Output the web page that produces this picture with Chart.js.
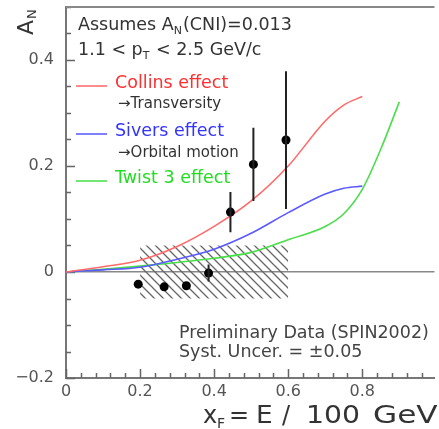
<!DOCTYPE html>
<html>
<head>
<meta charset="utf-8">
<script src="https://cdn.jsdelivr.net/npm/chart.js@4/dist/chart.umd.min.js"></script>
<style>
  html, body { margin: 0; padding: 0; background: #fff; overflow: hidden; }
  canvas { display: block; }
</style>
</head>
<body>
<canvas id="an-chart" width="439" height="429"></canvas>
<script>
// model curves
const curveX = [0, 0.1, 0.2, 0.3, 0.4, 0.5, 0.6, 0.7, 0.75, 0.8];
const collins = [0, 0.010, 0.022, 0.048, 0.086, 0.134, 0.2, 0.285, 0.315, 0.331];
const sivers = [0, 0.004, 0.009, 0.024, 0.043, 0.073, 0.112, 0.147, 0.158, 0.162];
const twistX = [0, 0.1, 0.2, 0.3, 0.4, 0.5, 0.6, 0.7, 0.75, 0.8, 0.85, 0.9];
const twist3 = [0, 0.005, 0.011, 0.018, 0.026, 0.037, 0.061, 0.086, 0.11, 0.156, 0.232, 0.321];

// preliminary data
const dataX = [0.195, 0.265, 0.325, 0.385, 0.444, 0.506, 0.594];
const dataY = [-0.023, -0.028, -0.026, -0.002, 0.113, 0.203, 0.249];
const dataErr = [0, 0, 0, 0.016, 0.038, 0.069, 0.13];

// systematic band
const sysX = [0.2, 0.6];
const sysHalf = 0.05;

const xTicks = [0, 0.2, 0.4, 0.6, 0.8];
const yTicks = [-0.2, 0, 0.2, 0.4];

const FONT = "'DejaVu Sans', sans-serif";
const pts = (xs, ys) => xs.map((x, i) => ({ x: x, y: ys[i] }));

function hatch() {
  const c = document.createElement("canvas");
  c.width = 9; c.height = 9;
  const g = c.getContext("2d");
  g.strokeStyle = "#666";
  g.lineWidth = 1.3;
  g.beginPath();
  g.moveTo(0, 0); g.lineTo(9, 9);
  g.moveTo(-1, 8); g.lineTo(1, 10);
  g.moveTo(8, -1); g.lineTo(10, 1);
  g.stroke();
  return g.createPattern(c, "repeat");
}

// text with subscript pieces: parts = [[text, isSub], ...]
function richText(c, parts, x, y, size, color) {
  c.fillStyle = color;
  c.textBaseline = "alphabetic";
  c.textAlign = "left";
  for (const [t, sub] of parts) {
    const s = sub ? Math.round(size * 0.62) : size;
    c.font = s + "px " + FONT;
    c.fillText(t, x, sub ? y + size * 0.2 : y);
    x += c.measureText(t).width + (sub ? 1 : 0);
  }
}

// wide glyphs for the axis title
function wide(c, t, x, y, k) {
  c.save();
  c.translate(x, y);
  c.scale(k, 1);
  c.fillText(t, 0, 0);
  c.restore();
}

const decor = {
  id: "decor",
  beforeDatasetsDraw(chart) {
    const { ctx: c, chartArea: a, scales: { x, y } } = chart;
    c.save();
    c.strokeStyle = "#666";
    c.lineWidth = 1.5;
    c.beginPath();
    for (let i = 0; i * 0.04 <= x.max; i++) {
      const px = Math.round(x.getPixelForValue(i * 0.04)) + 0.5;
      const len = i % 5 === 0 ? 9 : 5;
      c.moveTo(px, a.bottom); c.lineTo(px, a.bottom - len);
    }
    for (let i = 0; -0.2 + i * 0.05 <= y.max + 1e-9; i++) {
      const py = Math.round(y.getPixelForValue(-0.2 + i * 0.05)) + 0.5;
      const len = i % 4 === 0 ? 9 : 5;
      c.moveTo(a.left, py); c.lineTo(a.left + len, py);
    }
    c.stroke();
    c.strokeStyle = "#888";
    c.lineWidth = 2;
    c.beginPath();
    c.moveTo(a.left, a.top); c.lineTo(a.right, a.top);
    c.stroke();
    c.restore();
  },
  afterDatasetsDraw(chart) {
    const { ctx: c, scales: { x, y } } = chart;
    c.save();
    c.strokeStyle = "#222";
    c.lineWidth = 2;
    c.beginPath();
    dataX.forEach((v, i) => {
      if (!dataErr[i]) return;
      const px = x.getPixelForValue(v);
      c.moveTo(px, y.getPixelForValue(dataY[i] - dataErr[i]));
      c.lineTo(px, y.getPixelForValue(dataY[i] + dataErr[i]));
    });
    c.stroke();
    c.restore();
  },
  afterDraw(chart) {
    const c = chart.ctx;
    c.save();
    const ink = "#333";
    richText(c, [["Assumes A", 0], ["N", 1], ["(CNI)=0.013", 0]], 78, 30, 17.5, ink);
    richText(c, [["1.1 < p", 0], ["T", 1], [" < 2.5 GeV/c", 0]], 78, 55, 17.5, ink);

    const legend = [
      ["Collins effect", "#ff3030", "#ff7070", 88, "\u2192Transversity", 108],
      ["Sivers effect", "#3333ff", "#6060ff", 136, "\u2192Orbital motion", 156.5],
      ["Twist 3 effect", "#22dd22", "#50e050", 183, null, 0]
    ];
    for (const [label, tc, lc, base, note, nb] of legend) {
      c.strokeStyle = lc;
      c.lineWidth = 1.6;
      c.beginPath();
      c.moveTo(76, base - 2); c.lineTo(107, base - 2);
      c.stroke();
      richText(c, [[label, 0]], 115, base, 17.5, tc);
      if (note) richText(c, [[note, 0]], 118, nb, 15, ink);
    }

    richText(c, [["Preliminary Data (SPIN2002)", 0]], 179, 338, 17.5, "#444");
    richText(c, [["Syst. Uncer. = \u00b10.05", 0]], 179, 356.5, 17.5, "#444");

    // x axis title
    c.fillStyle = "#333";
    c.font = "24px " + FONT;
    c.fillText("x", 203, 423);
    c.font = "14px " + FONT;
    c.fillText("F", 217, 428);
    c.font = "24px " + FONT;
    c.fillText("=", 229, 423);
    wide(c, "E", 256, 423, 1.1);
    c.fillText("/", 282, 423);
    wide(c, "100", 306, 423, 1.18);
    wide(c, "GeV", 373, 423, 1.3);

    // y axis title
    c.translate(33, 35);
    c.rotate(-Math.PI / 2);
    c.font = "22px " + FONT;
    c.fillText("A", 0, 0);
    c.font = "13px " + FONT;
    c.fillText("N", 16, 3);
    c.restore();
  }
};

const ctx = document.getElementById("an-chart");

new Chart(ctx, {
  type: "scatter",
  data: {
    datasets: [
      {
        label: "Data",
        data: pts(dataX, dataY),
        pointRadius: 4.5,
        backgroundColor: "#000",
        borderWidth: 0,
        order: 0,
      },
      {
        label: "Collins effect",
        type: "line",
        data: pts(curveX, collins),
        borderColor: "#ff6a6a",
        borderWidth: 1.6,
        pointRadius: 0,
        cubicInterpolationMode: "monotone",
        order: 1,
      },
      {
        label: "Sivers effect",
        type: "line",
        data: pts(curveX, sivers),
        borderColor: "#5a5aff",
        borderWidth: 1.6,
        pointRadius: 0,
        cubicInterpolationMode: "monotone",
        order: 1,
      },
      {
        label: "Twist 3 effect",
        type: "line",
        data: pts(twistX, twist3),
        borderColor: "#4ade4a",
        borderWidth: 1.6,
        pointRadius: 0,
        cubicInterpolationMode: "monotone",
        order: 1,
      },
      {
        label: "Syst",
        type: "line",
        data: pts(sysX, [sysHalf, sysHalf]),
        fill: { value: -sysHalf },
        backgroundColor: hatch(),
        borderWidth: 0,
        pointRadius: 0,
        order: 3,
      },
    ],
  },
  options: {
    responsive: false,
    animation: false,
    devicePixelRatio: 1,
    layout: { padding: { top: 7, left: 0, right: 0, bottom: 0 } },
    plugins: { legend: { display: false }, tooltip: { enabled: false } },
    scales: {
      x: {
        type: "linear",
        min: 0,
        max: 0.995,
        afterBuildTicks: (s) => { s.ticks = xTicks.map((v) => ({ value: v })); },
        afterFit: (s) => { s.height = 51; s.paddingLeft = 0; s.paddingRight = 0; },
        ticks: {
          color: "#555",
          font: { family: FONT, size: 16 },
          padding: 4,
          maxRotation: 0,
          callback: (v) => String(v),
        },
        grid: { display: false, drawTicks: false },
        border: { color: "#777", width: 2 },
      },
      y: {
        type: "linear",
        min: -0.2,
        max: 0.5,
        afterBuildTicks: (s) => { s.ticks = yTicks.map((v) => ({ value: v })); },
        afterFit: (s) => { s.width = 66; s.paddingTop = 0; s.paddingBottom = 0; },
        ticks: {
          color: "#555",
          font: { family: FONT, size: 16 },
          padding: 12,
          callback: (v) => (v < 0 ? "\u2212" + Math.abs(v) : String(v)),
        },
        grid: {
          drawTicks: false,
          color: (c) => (c.tick && c.tick.value === 0 ? "#888" : "rgba(0,0,0,0)"),
          lineWidth: 1.6,
        },
        border: { color: "#777", width: 2 },
      },
    },
  },
  plugins: [decor],
});
</script>
</body>
</html>
